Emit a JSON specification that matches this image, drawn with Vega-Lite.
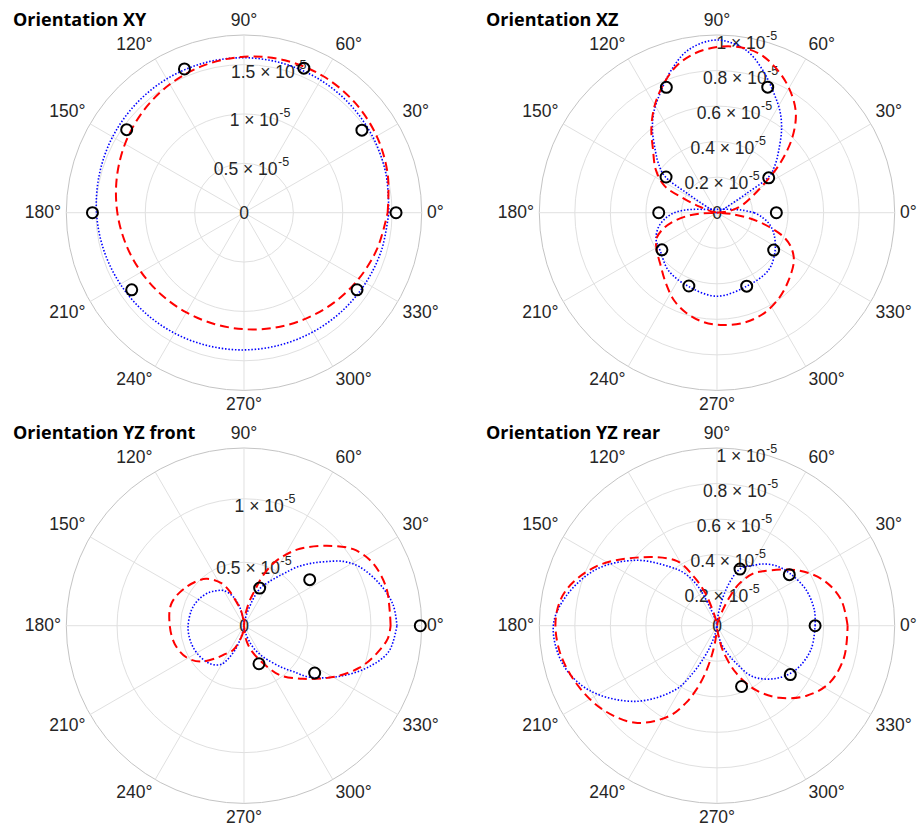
{
"$schema": "https://vega.github.io/schema/vega-lite/v6.json",
"padding": {"left": 13, "top": 0, "right": 0, "bottom": 0},
"background": "white",
"bounds": "flush",
"spacing": {"row": 0, "column": 41},
"columns": 2,
"data": {"values": [
{"p":"XY","k":"a","t":0,"lab":"0°"},{"p":"XY","k":"a","t":30,"lab":"30°"},{"p":"XY","k":"a","t":60,"lab":"60°"},{"p":"XY","k":"a","t":90,"lab":"90°"},{"p":"XY","k":"a","t":120,"lab":"120°"},{"p":"XY","k":"a","t":150,"lab":"150°"},{"p":"XY","k":"a","t":180,"lab":"180°"},{"p":"XY","k":"a","t":210,"lab":"210°"},{"p":"XY","k":"a","t":240,"lab":"240°"},{"p":"XY","k":"a","t":270,"lab":"270°"},{"p":"XY","k":"a","t":300,"lab":"300°"},{"p":"XY","k":"a","t":330,"lab":"330°"},
{"p":"XZ","k":"a","t":0,"lab":"0°"},{"p":"XZ","k":"a","t":30,"lab":"30°"},{"p":"XZ","k":"a","t":60,"lab":"60°"},{"p":"XZ","k":"a","t":90,"lab":"90°"},{"p":"XZ","k":"a","t":120,"lab":"120°"},{"p":"XZ","k":"a","t":150,"lab":"150°"},{"p":"XZ","k":"a","t":180,"lab":"180°"},{"p":"XZ","k":"a","t":210,"lab":"210°"},{"p":"XZ","k":"a","t":240,"lab":"240°"},{"p":"XZ","k":"a","t":270,"lab":"270°"},{"p":"XZ","k":"a","t":300,"lab":"300°"},{"p":"XZ","k":"a","t":330,"lab":"330°"},
{"p":"YZ front","k":"a","t":0,"lab":"0°"},{"p":"YZ front","k":"a","t":30,"lab":"30°"},{"p":"YZ front","k":"a","t":60,"lab":"60°"},{"p":"YZ front","k":"a","t":90,"lab":"90°"},{"p":"YZ front","k":"a","t":120,"lab":"120°"},{"p":"YZ front","k":"a","t":150,"lab":"150°"},{"p":"YZ front","k":"a","t":180,"lab":"180°"},{"p":"YZ front","k":"a","t":210,"lab":"210°"},{"p":"YZ front","k":"a","t":240,"lab":"240°"},{"p":"YZ front","k":"a","t":270,"lab":"270°"},{"p":"YZ front","k":"a","t":300,"lab":"300°"},{"p":"YZ front","k":"a","t":330,"lab":"330°"},
{"p":"YZ rear","k":"a","t":0,"lab":"0°"},{"p":"YZ rear","k":"a","t":30,"lab":"30°"},{"p":"YZ rear","k":"a","t":60,"lab":"60°"},{"p":"YZ rear","k":"a","t":90,"lab":"90°"},{"p":"YZ rear","k":"a","t":120,"lab":"120°"},{"p":"YZ rear","k":"a","t":150,"lab":"150°"},{"p":"YZ rear","k":"a","t":180,"lab":"180°"},{"p":"YZ rear","k":"a","t":210,"lab":"210°"},{"p":"YZ rear","k":"a","t":240,"lab":"240°"},{"p":"YZ rear","k":"a","t":270,"lab":"270°"},{"p":"YZ rear","k":"a","t":300,"lab":"300°"},{"p":"YZ rear","k":"a","t":330,"lab":"330°"},
{"p":"XY","k":"c","r":0,"lab":"0"},{"p":"XY","k":"c","r":0.5,"lab":"0.5 × 10","sup":"-5"},{"p":"XY","k":"c","r":1,"lab":"1 × 10","sup":"-5"},{"p":"XY","k":"c","r":1.5,"lab":"1.5 × 10","sup":"-5"},{"p":"XY","k":"c","r":1.8},
{"p":"XZ","k":"c","r":0,"lab":"0"},{"p":"XZ","k":"c","r":0.2,"lab":"0.2 × 10","sup":"-5"},{"p":"XZ","k":"c","r":0.4,"lab":"0.4 × 10","sup":"-5"},{"p":"XZ","k":"c","r":0.6,"lab":"0.6 × 10","sup":"-5"},{"p":"XZ","k":"c","r":0.8,"lab":"0.8 × 10","sup":"-5"},{"p":"XZ","k":"c","r":1,"lab":"1 × 10","sup":"-5"},
{"p":"YZ front","k":"c","r":0,"lab":"0"},{"p":"YZ front","k":"c","r":0.5,"lab":"0.5 × 10","sup":"-5"},{"p":"YZ front","k":"c","r":1,"lab":"1 × 10","sup":"-5"},{"p":"YZ front","k":"c","r":1.4},
{"p":"YZ rear","k":"c","r":0,"lab":"0"},{"p":"YZ rear","k":"c","r":0.2,"lab":"0.2 × 10","sup":"-5"},{"p":"YZ rear","k":"c","r":0.4,"lab":"0.4 × 10","sup":"-5"},{"p":"YZ rear","k":"c","r":0.6,"lab":"0.6 × 10","sup":"-5"},{"p":"YZ rear","k":"c","r":0.8,"lab":"0.8 × 10","sup":"-5"},{"p":"YZ rear","k":"c","r":1,"lab":"1 × 10","sup":"-5"},

{"p":"XY","k":"b","t":0,"r":1.467},{"p":"XY","k":"b","t":15,"r":1.49},{"p":"XY","k":"b","t":30,"r":1.513},{"p":"XY","k":"b","t":45,"r":1.534},{"p":"XY","k":"b","t":60,"r":1.551},{"p":"XY","k":"b","t":75,"r":1.563},{"p":"XY","k":"b","t":90,"r":1.57},{"p":"XY","k":"b","t":105,"r":1.57},{"p":"XY","k":"b","t":120,"r":1.565},{"p":"XY","k":"b","t":135,"r":1.553},{"p":"XY","k":"b","t":150,"r":1.537},{"p":"XY","k":"b","t":165,"r":1.516},{"p":"XY","k":"b","t":180,"r":1.494},{"p":"XY","k":"b","t":195,"r":1.47},{"p":"XY","k":"b","t":210,"r":1.447},{"p":"XY","k":"b","t":225,"r":1.426},{"p":"XY","k":"b","t":240,"r":1.409},{"p":"XY","k":"b","t":255,"r":1.396},{"p":"XY","k":"b","t":270,"r":1.39},{"p":"XY","k":"b","t":285,"r":1.389},{"p":"XY","k":"b","t":300,"r":1.395},{"p":"XY","k":"b","t":315,"r":1.407},{"p":"XY","k":"b","t":330,"r":1.423},{"p":"XY","k":"b","t":345,"r":1.444},{"p":"XY","k":"b","t":360,"r":1.467},

{"p":"XY","k":"r","t":0,"r":1.455},{"p":"XY","k":"r","t":15,"r":1.507},{"p":"XY","k":"r","t":30,"r":1.552},{"p":"XY","k":"r","t":45,"r":1.583},{"p":"XY","k":"r","t":60,"r":1.599},{"p":"XY","k":"r","t":75,"r":1.598},{"p":"XY","k":"r","t":90,"r":1.58},{"p":"XY","k":"r","t":105,"r":1.547},{"p":"XY","k":"r","t":120,"r":1.502},{"p":"XY","k":"r","t":135,"r":1.449},{"p":"XY","k":"r","t":150,"r":1.392},{"p":"XY","k":"r","t":165,"r":1.335},{"p":"XY","k":"r","t":180,"r":1.283},{"p":"XY","k":"r","t":195,"r":1.238},{"p":"XY","k":"r","t":210,"r":1.203},{"p":"XY","k":"r","t":225,"r":1.179},{"p":"XY","k":"r","t":240,"r":1.167},{"p":"XY","k":"r","t":255,"r":1.167},{"p":"XY","k":"r","t":270,"r":1.18},{"p":"XY","k":"r","t":285,"r":1.206},{"p":"XY","k":"r","t":300,"r":1.242},{"p":"XY","k":"r","t":315,"r":1.288},{"p":"XY","k":"r","t":330,"r":1.341},{"p":"XY","k":"r","t":345,"r":1.398},{"p":"XY","k":"r","t":360,"r":1.455},

{"p":"XY","k":"m","t":0,"r":1.54},{"p":"XY","k":"m","t":35,"r":1.458},{"p":"XY","k":"m","t":67.5,"r":1.585},{"p":"XY","k":"m","t":112.5,"r":1.576},{"p":"XY","k":"m","t":144.7,"r":1.456},{"p":"XY","k":"m","t":180,"r":1.535},{"p":"XY","k":"m","t":214.5,"r":1.38},{"p":"XY","k":"m","t":325.7,"r":1.386},

{"p":"XZ","k":"b","g":1,"t":0,"r":0},{"p":"XZ","k":"b","g":1,"t":20,"r":0.01},{"p":"XZ","k":"b","g":1,"t":30,"r":0.06},{"p":"XZ","k":"b","g":1,"t":33,"r":0.2},{"p":"XZ","k":"b","g":1,"t":35,"r":0.36},{"p":"XZ","k":"b","g":1,"t":40,"r":0.43},{"p":"XZ","k":"b","g":1,"t":45,"r":0.49},{"p":"XZ","k":"b","g":1,"t":52,"r":0.59},{"p":"XZ","k":"b","g":1,"t":58,"r":0.67},{"p":"XZ","k":"b","g":1,"t":65,"r":0.75},{"p":"XZ","k":"b","g":1,"t":72,"r":0.84},{"p":"XZ","k":"b","g":1,"t":80,"r":0.93},{"p":"XZ","k":"b","g":1,"t":90,"r":0.972},{"p":"XZ","k":"b","g":1,"t":100,"r":0.93},{"p":"XZ","k":"b","g":1,"t":108,"r":0.84},{"p":"XZ","k":"b","g":1,"t":115,"r":0.75},{"p":"XZ","k":"b","g":1,"t":122,"r":0.67},{"p":"XZ","k":"b","g":1,"t":128,"r":0.59},{"p":"XZ","k":"b","g":1,"t":135,"r":0.49},{"p":"XZ","k":"b","g":1,"t":140,"r":0.43},{"p":"XZ","k":"b","g":1,"t":145,"r":0.36},{"p":"XZ","k":"b","g":1,"t":147,"r":0.2},{"p":"XZ","k":"b","g":1,"t":150,"r":0.06},{"p":"XZ","k":"b","g":1,"t":160,"r":0.01},{"p":"XZ","k":"b","g":1,"t":180,"r":0},

{"p":"XZ","k":"b","g":2,"t":0,"r":0.21},{"p":"XZ","k":"b","g":2,"t":5,"r":0.15},{"p":"XZ","k":"b","g":2,"t":8,"r":0.12},{"p":"XZ","k":"b","g":2,"t":14,"r":0.078},{"p":"XZ","k":"b","g":2,"t":30,"r":0.04},{"p":"XZ","k":"b","g":2,"t":60,"r":0.022},{"p":"XZ","k":"b","g":2,"t":90,"r":0.019},{"p":"XZ","k":"b","g":2,"t":120,"r":0.022},{"p":"XZ","k":"b","g":2,"t":150,"r":0.04},{"p":"XZ","k":"b","g":2,"t":165,"r":0.073},{"p":"XZ","k":"b","g":2,"t":172,"r":0.135},{"p":"XZ","k":"b","g":2,"t":176,"r":0.19},{"p":"XZ","k":"b","g":2,"t":180,"r":0.24},{"p":"XZ","k":"b","g":2,"t":186,"r":0.29},{"p":"XZ","k":"b","g":2,"t":194,"r":0.34},{"p":"XZ","k":"b","g":2,"t":204,"r":0.375},{"p":"XZ","k":"b","g":2,"t":214,"r":0.385},{"p":"XZ","k":"b","g":2,"t":230,"r":0.425},{"p":"XZ","k":"b","g":2,"t":249,"r":0.445},{"p":"XZ","k":"b","g":2,"t":270,"r":0.47},{"p":"XZ","k":"b","g":2,"t":292,"r":0.446},{"p":"XZ","k":"b","g":2,"t":312,"r":0.434},{"p":"XZ","k":"b","g":2,"t":327,"r":0.39},{"p":"XZ","k":"b","g":2,"t":340,"r":0.34},{"p":"XZ","k":"b","g":2,"t":348,"r":0.3},{"p":"XZ","k":"b","g":2,"t":355,"r":0.25},{"p":"XZ","k":"b","g":2,"t":360,"r":0.21},

{"p":"XZ","k":"r","t":0,"r":0},{"p":"XZ","k":"r","t":5,"r":0.04},{"p":"XZ","k":"r","t":10,"r":0.09},{"p":"XZ","k":"r","t":17,"r":0.15},{"p":"XZ","k":"r","t":25,"r":0.22},{"p":"XZ","k":"r","t":32,"r":0.32},{"p":"XZ","k":"r","t":38,"r":0.45},{"p":"XZ","k":"r","t":45,"r":0.6},{"p":"XZ","k":"r","t":52,"r":0.72},{"p":"XZ","k":"r","t":60,"r":0.81},{"p":"XZ","k":"r","t":68,"r":0.88},{"p":"XZ","k":"r","t":75,"r":0.925},{"p":"XZ","k":"r","t":82,"r":0.94},{"p":"XZ","k":"r","t":90,"r":0.932},{"p":"XZ","k":"r","t":98,"r":0.905},{"p":"XZ","k":"r","t":105,"r":0.86},{"p":"XZ","k":"r","t":112,"r":0.79},{"p":"XZ","k":"r","t":120,"r":0.7},{"p":"XZ","k":"r","t":128,"r":0.6},{"p":"XZ","k":"r","t":135,"r":0.51},{"p":"XZ","k":"r","t":145,"r":0.42},{"p":"XZ","k":"r","t":153,"r":0.33},{"p":"XZ","k":"r","t":157,"r":0.2},{"p":"XZ","k":"r","t":161,"r":0.1},{"p":"XZ","k":"r","t":168,"r":0.03},{"p":"XZ","k":"r","t":180,"r":0},{"p":"XZ","k":"r","t":183,"r":0.1},{"p":"XZ","k":"r","t":187,"r":0.18},{"p":"XZ","k":"r","t":192,"r":0.26},{"p":"XZ","k":"r","t":197,"r":0.32},{"p":"XZ","k":"r","t":203,"r":0.37},{"p":"XZ","k":"r","t":212,"r":0.4},{"p":"XZ","k":"r","t":222,"r":0.43},{"p":"XZ","k":"r","t":234,"r":0.49},{"p":"XZ","k":"r","t":244,"r":0.55},{"p":"XZ","k":"r","t":253,"r":0.59},{"p":"XZ","k":"r","t":263,"r":0.62},{"p":"XZ","k":"r","t":273,"r":0.633},{"p":"XZ","k":"r","t":284,"r":0.637},{"p":"XZ","k":"r","t":295,"r":0.625},{"p":"XZ","k":"r","t":306,"r":0.594},{"p":"XZ","k":"r","t":317,"r":0.553},{"p":"XZ","k":"r","t":328,"r":0.51},{"p":"XZ","k":"r","t":335,"r":0.46},{"p":"XZ","k":"r","t":340,"r":0.4},{"p":"XZ","k":"r","t":345,"r":0.3},{"p":"XZ","k":"r","t":350,"r":0.19},{"p":"XZ","k":"r","t":355,"r":0.08},{"p":"XZ","k":"r","t":360,"r":0},

{"p":"XZ","k":"m","t":0,"r":0.334},{"p":"XZ","k":"m","t":34,"r":0.351},{"p":"XZ","k":"m","t":68,"r":0.762},{"p":"XZ","k":"m","t":112,"r":0.761},{"p":"XZ","k":"m","t":145,"r":0.35},{"p":"XZ","k":"m","t":180,"r":0.328},{"p":"XZ","k":"m","t":214,"r":0.374},{"p":"XZ","k":"m","t":249,"r":0.442},{"p":"XZ","k":"m","t":292,"r":0.446},{"p":"XZ","k":"m","t":326.6,"r":0.382},

{"p":"YZ front","k":"b","t":0,"r":1.205},{"p":"YZ front","k":"b","t":8,"r":1.186},{"p":"YZ front","k":"b","t":17,"r":1.119},{"p":"YZ front","k":"b","t":27,"r":1.022},{"p":"YZ front","k":"b","t":33,"r":0.93},{"p":"YZ front","k":"b","t":38,"r":0.82},{"p":"YZ front","k":"b","t":43,"r":0.72},{"p":"YZ front","k":"b","t":48,"r":0.62},{"p":"YZ front","k":"b","t":52,"r":0.53},{"p":"YZ front","k":"b","t":56,"r":0.46},{"p":"YZ front","k":"b","t":61,"r":0.39},{"p":"YZ front","k":"b","t":66,"r":0.33},{"p":"YZ front","k":"b","t":70,"r":0.25},{"p":"YZ front","k":"b","t":73,"r":0.17},{"p":"YZ front","k":"b","t":78,"r":0.08},{"p":"YZ front","k":"b","t":84,"r":0.02},{"p":"YZ front","k":"b","t":90,"r":0},{"p":"YZ front","k":"b","t":96,"r":0.03},{"p":"YZ front","k":"b","t":103,"r":0.15},{"p":"YZ front","k":"b","t":111,"r":0.25},{"p":"YZ front","k":"b","t":120,"r":0.32},{"p":"YZ front","k":"b","t":128,"r":0.35},{"p":"YZ front","k":"b","t":135,"r":0.375},{"p":"YZ front","k":"b","t":144,"r":0.4},{"p":"YZ front","k":"b","t":154,"r":0.42},{"p":"YZ front","k":"b","t":164,"r":0.432},{"p":"YZ front","k":"b","t":181,"r":0.441},{"p":"YZ front","k":"b","t":193,"r":0.44},{"p":"YZ front","k":"b","t":203,"r":0.435},{"p":"YZ front","k":"b","t":214,"r":0.425},{"p":"YZ front","k":"b","t":224,"r":0.41},{"p":"YZ front","k":"b","t":232,"r":0.39},{"p":"YZ front","k":"b","t":240,"r":0.35},{"p":"YZ front","k":"b","t":245,"r":0.28},{"p":"YZ front","k":"b","t":250,"r":0.2},{"p":"YZ front","k":"b","t":254,"r":0.12},{"p":"YZ front","k":"b","t":262,"r":0.03},{"p":"YZ front","k":"b","t":270,"r":0},{"p":"YZ front","k":"b","t":276,"r":0.02},{"p":"YZ front","k":"b","t":282,"r":0.06},{"p":"YZ front","k":"b","t":288,"r":0.12},{"p":"YZ front","k":"b","t":294,"r":0.2},{"p":"YZ front","k":"b","t":300,"r":0.27},{"p":"YZ front","k":"b","t":305,"r":0.33},{"p":"YZ front","k":"b","t":312,"r":0.44},{"p":"YZ front","k":"b","t":317,"r":0.53},{"p":"YZ front","k":"b","t":322,"r":0.66},{"p":"YZ front","k":"b","t":333,"r":0.87},{"p":"YZ front","k":"b","t":342,"r":1.04},{"p":"YZ front","k":"b","t":350,"r":1.16},{"p":"YZ front","k":"b","t":360,"r":1.205},

{"p":"YZ front","k":"r","t":0,"r":1.155},{"p":"YZ front","k":"r","t":6,"r":1.154},{"p":"YZ front","k":"r","t":15,"r":1.16},{"p":"YZ front","k":"r","t":26,"r":1.128},{"p":"YZ front","k":"r","t":35,"r":1.051},{"p":"YZ front","k":"r","t":44,"r":0.906},{"p":"YZ front","k":"r","t":54,"r":0.749},{"p":"YZ front","k":"r","t":60,"r":0.64},{"p":"YZ front","k":"r","t":65,"r":0.539},{"p":"YZ front","k":"r","t":70,"r":0.4},{"p":"YZ front","k":"r","t":73,"r":0.29},{"p":"YZ front","k":"r","t":77,"r":0.206},{"p":"YZ front","k":"r","t":81,"r":0.124},{"p":"YZ front","k":"r","t":86,"r":0.04},{"p":"YZ front","k":"r","t":90,"r":0},{"p":"YZ front","k":"r","t":95,"r":0.03},{"p":"YZ front","k":"r","t":101,"r":0.12},{"p":"YZ front","k":"r","t":108,"r":0.2},{"p":"YZ front","k":"r","t":113,"r":0.3},{"p":"YZ front","k":"r","t":118,"r":0.38},{"p":"YZ front","k":"r","t":129,"r":0.475},{"p":"YZ front","k":"r","t":146,"r":0.547},{"p":"YZ front","k":"r","t":163,"r":0.598},{"p":"YZ front","k":"r","t":179,"r":0.586},{"p":"YZ front","k":"r","t":195,"r":0.564},{"p":"YZ front","k":"r","t":209,"r":0.517},{"p":"YZ front","k":"r","t":220,"r":0.44},{"p":"YZ front","k":"r","t":230,"r":0.33},{"p":"YZ front","k":"r","t":236,"r":0.27},{"p":"YZ front","k":"r","t":246,"r":0.21},{"p":"YZ front","k":"r","t":257,"r":0.09},{"p":"YZ front","k":"r","t":265,"r":0.03},{"p":"YZ front","k":"r","t":270,"r":0},{"p":"YZ front","k":"r","t":275,"r":0.05},{"p":"YZ front","k":"r","t":280,"r":0.13},{"p":"YZ front","k":"r","t":287,"r":0.21},{"p":"YZ front","k":"r","t":294,"r":0.29},{"p":"YZ front","k":"r","t":300,"r":0.38},{"p":"YZ front","k":"r","t":306,"r":0.482},{"p":"YZ front","k":"r","t":318,"r":0.625},{"p":"YZ front","k":"r","t":330,"r":0.809},{"p":"YZ front","k":"r","t":340,"r":0.968},{"p":"YZ front","k":"r","t":348,"r":1.066},{"p":"YZ front","k":"r","t":355,"r":1.138},{"p":"YZ front","k":"r","t":360,"r":1.155},

{"p":"YZ front","k":"m","t":0,"r":1.389},{"p":"YZ front","k":"m","t":35,"r":0.632},{"p":"YZ front","k":"m","t":67.4,"r":0.321},{"p":"YZ front","k":"m","t":291.5,"r":0.322},{"p":"YZ front","k":"m","t":326.2,"r":0.67},

{"p":"YZ rear","k":"b","t":0,"r":0.552},{"p":"YZ rear","k":"b","t":9,"r":0.555},{"p":"YZ rear","k":"b","t":22,"r":0.54},{"p":"YZ rear","k":"b","t":36,"r":0.504},{"p":"YZ rear","k":"b","t":45,"r":0.475},{"p":"YZ rear","k":"b","t":53.5,"r":0.432},{"p":"YZ rear","k":"b","t":60,"r":0.39},{"p":"YZ rear","k":"b","t":66,"r":0.36},{"p":"YZ rear","k":"b","t":70,"r":0.32},{"p":"YZ rear","k":"b","t":76,"r":0.21},{"p":"YZ rear","k":"b","t":82,"r":0.09},{"p":"YZ rear","k":"b","t":86,"r":0.03},{"p":"YZ rear","k":"b","t":90,"r":0},{"p":"YZ rear","k":"b","t":100,"r":0.01},{"p":"YZ rear","k":"b","t":106,"r":0.04},{"p":"YZ rear","k":"b","t":110,"r":0.09},{"p":"YZ rear","k":"b","t":116,"r":0.25},{"p":"YZ rear","k":"b","t":122,"r":0.35},{"p":"YZ rear","k":"b","t":129,"r":0.428},{"p":"YZ rear","k":"b","t":141,"r":0.585},{"p":"YZ rear","k":"b","t":155,"r":0.75},{"p":"YZ rear","k":"b","t":169,"r":0.866},{"p":"YZ rear","k":"b","t":180,"r":0.921},{"p":"YZ rear","k":"b","t":194,"r":0.894},{"p":"YZ rear","k":"b","t":207,"r":0.804},{"p":"YZ rear","k":"b","t":223,"r":0.624},{"p":"YZ rear","k":"b","t":237,"r":0.43},{"p":"YZ rear","k":"b","t":243,"r":0.3},{"p":"YZ rear","k":"b","t":248,"r":0.19},{"p":"YZ rear","k":"b","t":252,"r":0.12},{"p":"YZ rear","k":"b","t":258,"r":0.04},{"p":"YZ rear","k":"b","t":270,"r":0},{"p":"YZ rear","k":"b","t":275,"r":0.03},{"p":"YZ rear","k":"b","t":282,"r":0.09},{"p":"YZ rear","k":"b","t":290,"r":0.16},{"p":"YZ rear","k":"b","t":297,"r":0.236},{"p":"YZ rear","k":"b","t":305,"r":0.349},{"p":"YZ rear","k":"b","t":318,"r":0.444},{"p":"YZ rear","k":"b","t":331,"r":0.509},{"p":"YZ rear","k":"b","t":346,"r":0.546},{"p":"YZ rear","k":"b","t":360,"r":0.552},

{"p":"YZ rear","k":"r","t":0,"r":0.735},{"p":"YZ rear","k":"r","t":12,"r":0.713},{"p":"YZ rear","k":"r","t":23.5,"r":0.649},{"p":"YZ rear","k":"r","t":35,"r":0.545},{"p":"YZ rear","k":"r","t":50,"r":0.4},{"p":"YZ rear","k":"r","t":55,"r":0.36},{"p":"YZ rear","k":"r","t":62,"r":0.27},{"p":"YZ rear","k":"r","t":66,"r":0.18},{"p":"YZ rear","k":"r","t":70,"r":0.09},{"p":"YZ rear","k":"r","t":78,"r":0.02},{"p":"YZ rear","k":"r","t":90,"r":0},{"p":"YZ rear","k":"r","t":100,"r":0.03},{"p":"YZ rear","k":"r","t":106,"r":0.1},{"p":"YZ rear","k":"r","t":110,"r":0.2},{"p":"YZ rear","k":"r","t":115,"r":0.3},{"p":"YZ rear","k":"r","t":122,"r":0.43},{"p":"YZ rear","k":"r","t":140,"r":0.596},{"p":"YZ rear","k":"r","t":154,"r":0.759},{"p":"YZ rear","k":"r","t":167,"r":0.874},{"p":"YZ rear","k":"r","t":177,"r":0.908},{"p":"YZ rear","k":"r","t":189,"r":0.898},{"p":"YZ rear","k":"r","t":202,"r":0.857},{"p":"YZ rear","k":"r","t":216,"r":0.799},{"p":"YZ rear","k":"r","t":230,"r":0.713},{"p":"YZ rear","k":"r","t":242,"r":0.577},{"p":"YZ rear","k":"r","t":248,"r":0.47},{"p":"YZ rear","k":"r","t":252,"r":0.38},{"p":"YZ rear","k":"r","t":256,"r":0.28},{"p":"YZ rear","k":"r","t":260,"r":0.17},{"p":"YZ rear","k":"r","t":264,"r":0.08},{"p":"YZ rear","k":"r","t":270,"r":0.02},{"p":"YZ rear","k":"r","t":278,"r":0.05},{"p":"YZ rear","k":"r","t":283,"r":0.14},{"p":"YZ rear","k":"r","t":292,"r":0.287},{"p":"YZ rear","k":"r","t":301,"r":0.422},{"p":"YZ rear","k":"r","t":311,"r":0.537},{"p":"YZ rear","k":"r","t":322,"r":0.64},{"p":"YZ rear","k":"r","t":333,"r":0.71},{"p":"YZ rear","k":"r","t":346,"r":0.737},{"p":"YZ rear","k":"r","t":360,"r":0.735},

{"p":"YZ rear","k":"m","t":0,"r":0.552},{"p":"YZ rear","k":"m","t":35.2,"r":0.498},{"p":"YZ rear","k":"m","t":67.9,"r":0.344},{"p":"YZ rear","k":"m","t":292,"r":0.369},{"p":"YZ rear","k":"m","t":326.3,"r":0.496}
]},
"transform": [
{"lookup": "p", "from": {"data": {"values": [{"p":"XY","rmax":1.8},{"p":"XZ","rmax":1},{"p":"YZ front","rmax":1.4},{"p":"YZ rear","rmax":1}]}, "key": "p", "fields": ["rmax"]}},
{"calculate": "0", "as": "z"},
{"calculate": "datum.r / datum.rmax", "as": "rn"},
{"calculate": "datum.rn * cos(datum.t * PI / 180)", "as": "x"},
{"calculate": "datum.rn * sin(datum.t * PI / 180)", "as": "y"},
{"calculate": "cos(datum.t * PI / 180)", "as": "sx"},
{"calculate": "sin(datum.t * PI / 180)", "as": "sy"},
{"calculate": "1.03 * cos(datum.t * PI / 180)", "as": "ax"},
{"calculate": "1.03 * sin(datum.t * PI / 180)", "as": "ay"},
{"calculate": "datum.rn * cos(80 * PI / 180)", "as": "lx"},
{"calculate": "datum.rn * sin(80 * PI / 180)", "as": "ly"}
],
"facet": {"field": "p", "type": "nominal", "title": null,
  "header": {"labelExpr": "'Orientation ' + datum.value", "labelAnchor": "start", "labelAlign": "left", "labelFont": "Open Sans", "labelFontSize": 18, "labelFontWeight": "bold", "labelColor": "#000000", "labelPadding": -44, "labelBaseline": "alphabetic"}},
"spec": {
"width": 431.5, "height": 413,
"layer": [
{"transform": [{"filter": "datum.k == 'c' && datum.r > 0"}],
 "mark": {"type": "point", "shape": "circle", "filled": false, "strokeWidth": 1, "opacity": 1},
 "encoding": {
  "x": {"field": "z", "type": "quantitative", "scale": {"domain": [-1.29994, 1.12831], "nice": false, "zero": false}, "axis": null},
  "y": {"field": "z", "type": "quantitative", "scale": {"domain": [-1.12718, 1.19696], "nice": false, "zero": false}, "axis": null},
  "size": {"field": "rn", "type": "quantitative", "scale": {"type": "pow", "exponent": 2, "domain": [0, 1], "range": [0, 126309]}, "legend": null},
  "stroke": {"condition": {"test": "datum.r == datum.rmax", "value": "#c4c4c4"}, "value": "#e0e0e0"}
 }},
{"transform": [{"filter": "datum.k == 'a'"}],
 "mark": {"type": "rule", "stroke": "#e0e0e0", "strokeWidth": 1},
 "encoding": {
  "x": {"field": "z", "type": "quantitative", "scale": {"domain": [-1.29994, 1.12831], "nice": false, "zero": false}, "axis": null},
  "y": {"field": "z", "type": "quantitative", "scale": {"domain": [-1.12718, 1.19696], "nice": false, "zero": false}, "axis": null},
  "x2": {"field": "sx"},
  "y2": {"field": "sy"}
 }},
{"transform": [{"filter": "datum.k == 'c' && datum.r > 0 && isValid(datum.sup)"}, {"calculate": "datum.lx + (length(datum.lab) > 6 ? 25 : 17.7) / 177.7", "as": "jx"}],
 "mark": {"type": "text", "align": "right", "baseline": "middle", "dy": 6, "font": "Liberation Sans", "fontSize": 17.5, "fill": "#262626"},
 "encoding": {
  "x": {"field": "jx", "type": "quantitative", "scale": {"domain": [-1.29994, 1.12831], "nice": false, "zero": false}, "axis": null},
  "y": {"field": "ly", "type": "quantitative", "scale": {"domain": [-1.12718, 1.19696], "nice": false, "zero": false}, "axis": null},
  "text": {"field": "lab", "type": "nominal"}
 }},
{"transform": [{"filter": "datum.k == 'c' && datum.r > 0 && isValid(datum.sup)"}, {"calculate": "datum.lx + (length(datum.lab) > 6 ? 25 : 17.7) / 177.7", "as": "jx"}],
 "mark": {"type": "text", "align": "left", "baseline": "middle", "dy": -2, "dx": 0.5, "font": "Liberation Sans", "fontSize": 12.5, "fill": "#262626"},
 "encoding": {
  "x": {"field": "jx", "type": "quantitative", "scale": {"domain": [-1.29994, 1.12831], "nice": false, "zero": false}, "axis": null},
  "y": {"field": "ly", "type": "quantitative", "scale": {"domain": [-1.12718, 1.19696], "nice": false, "zero": false}, "axis": null},
  "text": {"field": "sup", "type": "nominal"}
 }},
{"transform": [{"filter": "datum.k == 'c' && datum.r == 0"}],
 "mark": {"type": "text", "align": "center", "baseline": "middle", "dy": 1, "font": "Liberation Sans", "fontSize": 17.5, "fill": "#262626"},
 "encoding": {
  "x": {"field": "z", "type": "quantitative", "scale": {"domain": [-1.29994, 1.12831], "nice": false, "zero": false}, "axis": null},
  "y": {"field": "z", "type": "quantitative", "scale": {"domain": [-1.12718, 1.19696], "nice": false, "zero": false}, "axis": null},
  "text": {"field": "lab", "type": "nominal"}
 }},
{"transform": [{"filter": "datum.k == 'b'"}],
 "mark": {"type": "line", "stroke": "#0000ff", "strokeWidth": 1.6, "strokeDash": [1.5, 1.8], "interpolate": "catmull-rom"},
 "encoding": {
  "x": {"field": "x", "type": "quantitative", "scale": {"domain": [-1.29994, 1.12831], "nice": false, "zero": false}, "axis": null},
  "y": {"field": "y", "type": "quantitative", "scale": {"domain": [-1.12718, 1.19696], "nice": false, "zero": false}, "axis": null},
  "detail": {"field": "g", "type": "nominal"},
  "order": {"field": "t", "type": "quantitative"}
 }},
{"transform": [{"filter": "datum.k == 'r'"}],
 "mark": {"type": "line", "stroke": "#ff0000", "strokeWidth": 2, "strokeDash": [9, 5], "interpolate": "catmull-rom"},
 "encoding": {
  "x": {"field": "x", "type": "quantitative", "scale": {"domain": [-1.29994, 1.12831], "nice": false, "zero": false}, "axis": null},
  "y": {"field": "y", "type": "quantitative", "scale": {"domain": [-1.12718, 1.19696], "nice": false, "zero": false}, "axis": null},
  "order": {"field": "t", "type": "quantitative"}
 }},
{"transform": [{"filter": "datum.k == 'm'"}],
 "mark": {"type": "point", "shape": "circle", "filled": false, "stroke": "#000000", "strokeWidth": 2, "size": 121, "opacity": 1},
 "encoding": {
  "x": {"field": "x", "type": "quantitative", "scale": {"domain": [-1.29994, 1.12831], "nice": false, "zero": false}, "axis": null},
  "y": {"field": "y", "type": "quantitative", "scale": {"domain": [-1.12718, 1.19696], "nice": false, "zero": false}, "axis": null}
 }},
{"transform": [{"filter": "datum.k == 'a' && datum.t == 0"}],
 "mark": {"type": "text", "align": "left", "baseline": "middle", "font": "Liberation Sans", "fontSize": 17.5, "fill": "#262626"},
 "encoding": {
  "x": {"field": "ax", "type": "quantitative", "scale": {"domain": [-1.29994, 1.12831], "nice": false, "zero": false}, "axis": null},
  "y": {"field": "ay", "type": "quantitative", "scale": {"domain": [-1.12718, 1.19696], "nice": false, "zero": false}, "axis": null},
  "text": {"field": "lab", "type": "nominal"}
 }},
{"transform": [{"filter": "datum.k == 'a' && (datum.t == 30 || datum.t == 60)"}],
 "mark": {"type": "text", "align": "left", "baseline": "bottom", "font": "Liberation Sans", "fontSize": 17.5, "fill": "#262626"},
 "encoding": {
  "x": {"field": "ax", "type": "quantitative", "scale": {"domain": [-1.29994, 1.12831], "nice": false, "zero": false}, "axis": null},
  "y": {"field": "ay", "type": "quantitative", "scale": {"domain": [-1.12718, 1.19696], "nice": false, "zero": false}, "axis": null},
  "text": {"field": "lab", "type": "nominal"}
 }},
{"transform": [{"filter": "datum.k == 'a' && datum.t == 90"}],
 "mark": {"type": "text", "align": "center", "baseline": "bottom", "font": "Liberation Sans", "fontSize": 17.5, "fill": "#262626"},
 "encoding": {
  "x": {"field": "ax", "type": "quantitative", "scale": {"domain": [-1.29994, 1.12831], "nice": false, "zero": false}, "axis": null},
  "y": {"field": "ay", "type": "quantitative", "scale": {"domain": [-1.12718, 1.19696], "nice": false, "zero": false}, "axis": null},
  "text": {"field": "lab", "type": "nominal"}
 }},
{"transform": [{"filter": "datum.k == 'a' && (datum.t == 120 || datum.t == 150)"}],
 "mark": {"type": "text", "align": "right", "baseline": "bottom", "font": "Liberation Sans", "fontSize": 17.5, "fill": "#262626"},
 "encoding": {
  "x": {"field": "ax", "type": "quantitative", "scale": {"domain": [-1.29994, 1.12831], "nice": false, "zero": false}, "axis": null},
  "y": {"field": "ay", "type": "quantitative", "scale": {"domain": [-1.12718, 1.19696], "nice": false, "zero": false}, "axis": null},
  "text": {"field": "lab", "type": "nominal"}
 }},
{"transform": [{"filter": "datum.k == 'a' && datum.t == 180"}],
 "mark": {"type": "text", "align": "right", "baseline": "middle", "font": "Liberation Sans", "fontSize": 17.5, "fill": "#262626"},
 "encoding": {
  "x": {"field": "ax", "type": "quantitative", "scale": {"domain": [-1.29994, 1.12831], "nice": false, "zero": false}, "axis": null},
  "y": {"field": "ay", "type": "quantitative", "scale": {"domain": [-1.12718, 1.19696], "nice": false, "zero": false}, "axis": null},
  "text": {"field": "lab", "type": "nominal"}
 }},
{"transform": [{"filter": "datum.k == 'a' && (datum.t == 210 || datum.t == 240)"}],
 "mark": {"type": "text", "align": "right", "baseline": "top", "font": "Liberation Sans", "fontSize": 17.5, "fill": "#262626"},
 "encoding": {
  "x": {"field": "ax", "type": "quantitative", "scale": {"domain": [-1.29994, 1.12831], "nice": false, "zero": false}, "axis": null},
  "y": {"field": "ay", "type": "quantitative", "scale": {"domain": [-1.12718, 1.19696], "nice": false, "zero": false}, "axis": null},
  "text": {"field": "lab", "type": "nominal"}
 }},
{"transform": [{"filter": "datum.k == 'a' && datum.t == 270"}],
 "mark": {"type": "text", "align": "center", "baseline": "top", "font": "Liberation Sans", "fontSize": 17.5, "fill": "#262626"},
 "encoding": {
  "x": {"field": "ax", "type": "quantitative", "scale": {"domain": [-1.29994, 1.12831], "nice": false, "zero": false}, "axis": null},
  "y": {"field": "ay", "type": "quantitative", "scale": {"domain": [-1.12718, 1.19696], "nice": false, "zero": false}, "axis": null},
  "text": {"field": "lab", "type": "nominal"}
 }},
{"transform": [{"filter": "datum.k == 'a' && (datum.t == 300 || datum.t == 330)"}],
 "mark": {"type": "text", "align": "left", "baseline": "top", "font": "Liberation Sans", "fontSize": 17.5, "fill": "#262626"},
 "encoding": {
  "x": {"field": "ax", "type": "quantitative", "scale": {"domain": [-1.29994, 1.12831], "nice": false, "zero": false}, "axis": null},
  "y": {"field": "ay", "type": "quantitative", "scale": {"domain": [-1.12718, 1.19696], "nice": false, "zero": false}, "axis": null},
  "text": {"field": "lab", "type": "nominal"}
 }}
]},
"config": {"view": {"stroke": null}}
}
